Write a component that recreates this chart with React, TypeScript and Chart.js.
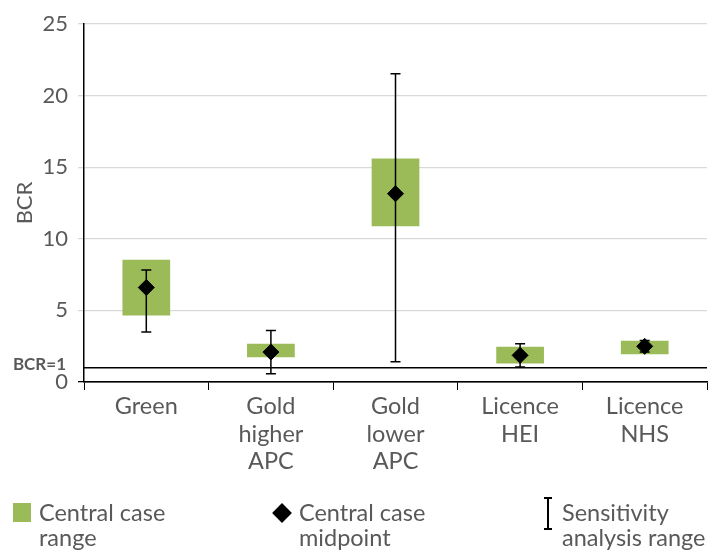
import React, { useEffect, useRef } from "react";
import { Chart, registerables } from "chart.js";

Chart.register(...registerables);

// ---- data ----
const categories: string[][] = [
  ["Green"],
  ["Gold", "higher", "APC"],
  ["Gold", "lower", "APC"],
  ["Licence", "HEI"],
  ["Licence", "NHS"],
];
const rangeLow = [4.65, 1.72, 10.87, 1.3, 1.93];
const rangeHigh = [8.54, 2.67, 15.6, 2.47, 2.88];
const midpoints = [6.6, 2.09, 13.15, 1.86, 2.49];
const sensLow = [3.49, 0.58, 1.42, 1.05, 2.1];
const sensHigh = [7.82, 3.6, 21.53, 2.67, 2.9];
const yMin = 0;
const yMax = 25;
const yStep = 5;
const bcrLine = 1;
const bcrLabel = "BCR=1";
const yTitle = "BCR";
const legendLabels = [
  ["Central case", "range"],
  ["Central case", "midpoint"],
  ["Sensitivity", "analysis range"],
];

const GREEN = "#9BBB59";
const TEXT = "#595959";
const FONT = "Lato";

const overlayPlugin = {
  id: "overlay",
  beforeDatasetsDraw(chart: any) {
    const { ctx, chartArea, scales } = chart;
    const py = scales.y.getPixelForValue(bcrLine);
    ctx.save();
    ctx.strokeStyle = "#000";
    ctx.lineWidth = 1.5;
    ctx.beginPath();
    ctx.moveTo(chartArea.left, py);
    ctx.lineTo(chartArea.right, py);
    ctx.stroke();
    ctx.font = `bold 17px ${FONT}`;
    ctx.fillStyle = TEXT;
    ctx.textAlign = "right";
    ctx.textBaseline = "middle";
    ctx.fillText(bcrLabel, 66, py - 3);
    ctx.restore();
  },
  afterDatasetDraw(chart: any, args: any) {
    if (args.index !== 1) return;
    const { ctx, scales } = chart;
    ctx.save();
    ctx.strokeStyle = "#000";
    ctx.lineWidth = 1.5;
    for (let i = 0; i < sensLow.length; i++) {
      const x = scales.x.getPixelForValue(i);
      const yl = scales.y.getPixelForValue(sensLow[i]);
      const yh = scales.y.getPixelForValue(sensHigh[i]);
      ctx.beginPath();
      ctx.moveTo(x, yl);
      ctx.lineTo(x, yh);
      ctx.moveTo(x - 5, yl);
      ctx.lineTo(x + 5, yl);
      ctx.moveTo(x - 5, yh);
      ctx.lineTo(x + 5, yh);
      ctx.stroke();
    }
    ctx.restore();
  },
};

export default function App() {
  const ref = useRef<HTMLCanvasElement>(null);
  useEffect(() => {
    if (!ref.current) return;
    const chart = new Chart(ref.current, {
      type: "bar",
      data: {
        labels: categories as any,
        datasets: [
          {
            type: "line",
            label: "Central case midpoint",
            data: midpoints,
            showLine: false,
            pointStyle: "rectRot",
            pointRadius: 8,
            pointBorderWidth: 1,
            backgroundColor: "#000",
            borderColor: "#000",
          } as any,
          {
            type: "bar",
            label: "Central case range",
            data: rangeLow.map((l, i) => [l, rangeHigh[i]]),
            backgroundColor: GREEN,
            borderWidth: 0,
            borderSkipped: false,
            categoryPercentage: 1,
            barPercentage: 0.383,
          } as any,
        ],
      },
      options: {
        animation: false,
        responsive: false,
        layout: { padding: { top: 24, right: 5, left: 0, bottom: 0 } },
        plugins: { legend: { display: false }, tooltip: { enabled: false } },
        scales: {
          x: {
            offset: true,
            afterFit: (s: any) => {
              s.height = 171;
            },
            grid: {
              offset: true,
              drawOnChartArea: false,
              drawTicks: true,
              tickLength: 8,
              color: "#000",
            },
            border: { color: "#000", width: 1.5 },
            ticks: {
              color: TEXT,
              padding: 3,
              maxRotation: 0,
              autoSkip: false,
              font: { family: FONT, size: 23.5, lineHeight: 1.17 },
            },
          },
          y: {
            min: yMin,
            max: yMax,
            afterFit: (s: any) => {
              s.width = 84;
            },
            grid: {
              color: (c: any) => (c.tick && c.tick.value === 0 ? "#000" : "#d9d9d9"),
              lineWidth: 1.3,
              tickLength: 6,
            },
            border: { color: "#000", width: 1.5 },
            ticks: {
              stepSize: yStep,
              color: TEXT,
              padding: 10,
              font: { family: FONT, size: 22 },
            },
            title: {
              display: true,
              text: yTitle,
              color: TEXT,
              font: { family: FONT, size: 22 },
              padding: { top: 12, bottom: 0 },
            },
          },
        },
      },
      plugins: [overlayPlugin],
    });
    return () => chart.destroy();
  }, []);

  const textStyle: React.CSSProperties = {
    position: "absolute",
    top: 500,
    fontFamily: FONT,
    fontSize: 23.5,
    lineHeight: "25px",
    color: TEXT,
    whiteSpace: "nowrap",
  };

  return (
    <div style={{ position: "absolute", left: 0, top: 0, width: 716, height: 553, background: "#fff" }}>
      <canvas ref={ref} width={716} height={553} style={{ display: "block" }} />
      {/* legend */}
      <div style={{ position: "absolute", left: 13, top: 503, width: 18, height: 19, background: GREEN }} />
      <div style={{ ...textStyle, left: 39 }}>
        {legendLabels[0][0]}
        <br />
        {legendLabels[0][1]}
      </div>
      <div
        style={{
          position: "absolute",
          left: 275,
          top: 506,
          width: 14,
          height: 14,
          background: "#000",
          transform: "rotate(45deg)",
        }}
      />
      <div style={{ ...textStyle, left: 299 }}>
        {legendLabels[1][0]}
        <br />
        {legendLabels[1][1]}
      </div>
      <div style={{ position: "absolute", left: 547, top: 497, width: 1.5, height: 32, background: "#000" }} />
      <div style={{ position: "absolute", left: 544, top: 497, width: 8, height: 1.5, background: "#000" }} />
      <div style={{ position: "absolute", left: 544, top: 528, width: 8, height: 1.5, background: "#000" }} />
      <div style={{ ...textStyle, left: 562 }}>
        {legendLabels[2][0]}
        <br />
        {legendLabels[2][1]}
      </div>
    </div>
  );
}
